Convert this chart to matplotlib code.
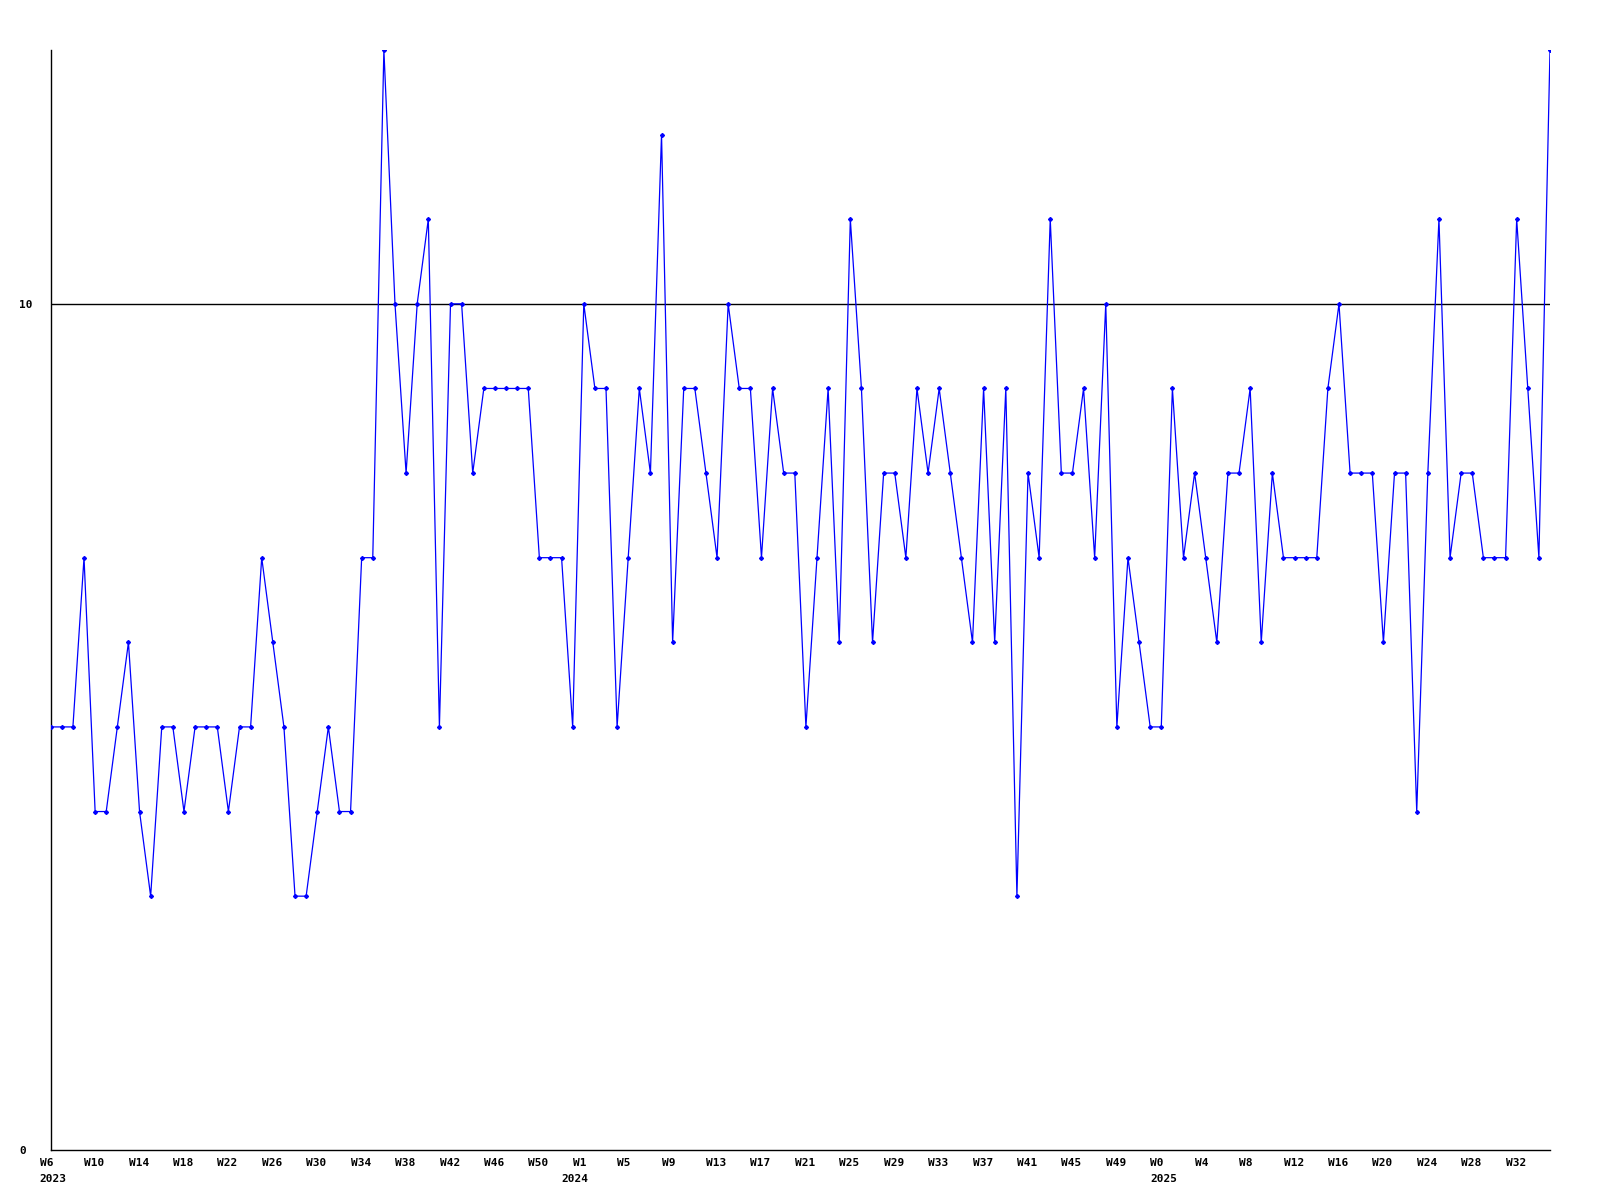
import matplotlib
matplotlib.use('Agg')
import matplotlib.pyplot as plt
import matplotlib.transforms as mtransforms

# weekly counts, W6 2023 .. W35 2025
counts = [5, 5, 5, 7, 4, 4, 5, 6, 4, 3, 5, 5, 4, 5, 5, 5, 4, 5, 5, 7,
          6, 5, 3, 3, 4, 5, 4, 4, 7, 7, 13, 10, 8, 10, 11, 5, 10, 10, 8, 9,
          9, 9, 9, 9, 7, 7, 7, 5, 10, 9, 9, 5, 7, 9, 8, 12, 6, 9, 9, 8,
          7, 10, 9, 9, 7, 9, 8, 8, 5, 7, 9, 6, 11, 9, 6, 8, 8, 7, 9, 8,
          9, 8, 7, 6, 9, 6, 9, 3, 8, 7, 11, 8, 8, 9, 7, 10, 5, 7, 6, 5,
          5, 9, 7, 8, 7, 6, 8, 8, 9, 6, 8, 7, 7, 7, 7, 9, 10, 8, 8, 8,
          6, 8, 8, 4, 8, 11, 7, 8, 8, 7, 7, 7, 11, 9, 7, 13]

week_labels = ['W6', 'W10', 'W14', 'W18', 'W22', 'W26', 'W30', 'W34', 'W38', 'W42', 'W46', 'W50',
               'W1', 'W5', 'W9', 'W13', 'W17', 'W21', 'W25', 'W29', 'W33', 'W37', 'W41', 'W45', 'W49',
               'W0', 'W4', 'W8', 'W12', 'W16', 'W20', 'W24', 'W28', 'W32']
year_labels = ['2023', '2024', '2025']
year_starts = [0, 47, 100]

x = list(range(len(counts)))

fig = plt.figure(figsize=(16, 12), dpi=100)
ax = fig.add_axes([50.7 / 1600, 50 / 1200, (1550 - 50.7) / 1600, 1100 / 1200])

ax.plot(x, counts, color='#0000ff', lw=0.9, marker='D', markersize=2, zorder=3)
ax.axhline(10, color='black', lw=1, zorder=2)

ax.set_xlim(0, len(counts) - 1)
ax.set_ylim(0, 13)

for s in ['top', 'right']:
    ax.spines[s].set_visible(False)
for s in ['left', 'bottom']:
    ax.spines[s].set_linewidth(1)
    ax.spines[s].set_color('black')

font = dict(family='DejaVu Sans Mono', weight='bold', size=8)

ax.set_yticks([0, 10])
ax.set_yticklabels(['0', '10'], ha='left', **font)
ax.tick_params(axis='y', length=0, pad=22.8)

# year labels share positions with week labels, keep both
ax.xaxis.remove_overlapping_locs = False
ax.set_xticks(x[::4])
ax.set_xticklabels(week_labels, ha='left', **font)
ax.set_xticks(year_starts, minor=True)
ax.set_xticklabels(year_labels, minor=True, ha='left', **font)
ax.tick_params(axis='x', which='major', length=0, pad=5.5)
ax.tick_params(axis='x', which='minor', length=0, pad=17)

offset = mtransforms.ScaledTranslation(-11 / 100, 0, fig.dpi_scale_trans)
for lbl in ax.get_xticklabels(which='both'):
    lbl.set_transform(lbl.get_transform() + offset)

fig.savefig('out.png', dpi=100)
